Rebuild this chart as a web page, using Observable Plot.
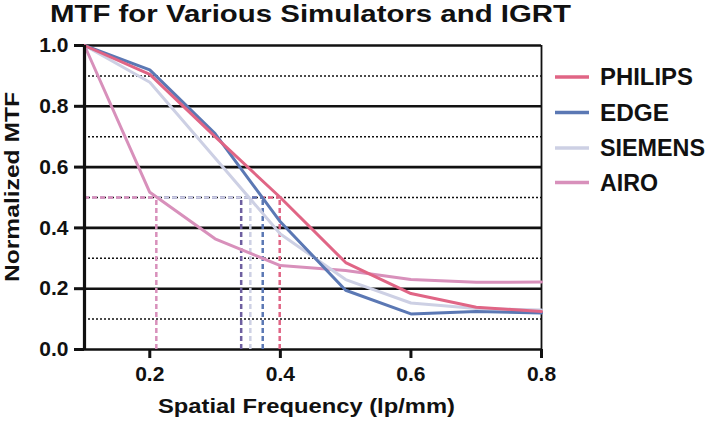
<!DOCTYPE html>
<html><head><meta charset="utf-8">
<script src="https://cdn.jsdelivr.net/npm/d3@7"></script>
<script src="https://cdn.jsdelivr.net/npm/@observablehq/plot@0.6"></script>
<style>
body{margin:0;background:#fff;}
#wrap{position:relative;width:709px;height:421px;overflow:hidden;}
</style></head>
<body><div id="wrap"></div>
<script>
const freq = [0.1, 0.2, 0.3, 0.4, 0.5, 0.6, 0.7, 0.8];
const philips = [1.0, 0.905, 0.70, 0.50, 0.286, 0.184, 0.139, 0.125];
const edge    = [1.0, 0.92, 0.71, 0.42, 0.195, 0.117, 0.125, 0.12];
const siemens = [1.0, 0.879, 0.63, 0.38, 0.23, 0.153, 0.135, 0.13];
const airo    = [1.0, 0.517, 0.364, 0.276, 0.26, 0.23, 0.221, 0.222];
const seriesNames = ["PHILIPS", "EDGE", "SIEMENS", "AIRO"];
const seriesColors = ["#e06585", "#5b78b4", "#cdd0e4", "#d890bb"];
const halfNames = ["PHILIPS", "EDGE", "OTHER", "SIEMENS", "AIRO"];
const halfFreq = [0.399, 0.373, 0.340, 0.354, 0.210];
const halfColors = ["#e06585", "#5b78b4", "#6e5fa0", "#cdd0e4", "#d890bb"];
const halfLevel = 0.5;
const yMajor = [0, 0.2, 0.4, 0.6, 0.8, 1.0];
const yMinor = [0.1, 0.3, 0.5, 0.7, 0.9];
const xTicks = [0.2, 0.4, 0.6, 0.8];
const titleText = "MTF for Various Simulators and IGRT";
const xLabel = "Spatial Frequency (lp/mm)";
const yLabel = "Normalized MTF";

const valuesBy = [philips, edge, siemens, airo];
const rows = [];
seriesNames.forEach((s, i) => freq.forEach((f, j) => rows.push({s, f, v: valuesBy[i][j], c: seriesColors[i]})));
const halfRows = halfNames.map((n, i) => ({n, f: halfFreq[i], c: halfColors[i]}));
const drawOrder = ["AIRO", "SIEMENS", "EDGE", "PHILIPS"];
const FONT = "'Liberation Sans', Arial, Helvetica, sans-serif";

const chart = Plot.plot({
  width: 709, height: 421,
  marginLeft: 84, marginRight: 168, marginTop: 45, marginBottom: 72,
  x: {domain: [0.1, 0.8]},
  y: {domain: [0, 1]},
  style: {fontFamily: FONT, fontWeight: "bold", fontSize: "21px", color: "#111", background: "#fff"},
  marks: [
    Plot.ruleY(yMinor, {stroke: "#111", strokeWidth: 1.5, strokeDasharray: "2,2"}),
    Plot.ruleY(yMajor, {stroke: "#111", strokeWidth: 2.6}),
    Plot.ruleX([0.8], {stroke: "#111", strokeWidth: 1.8}),
    Plot.ruleY(halfRows, {y: () => halfLevel, x1: () => 0.1, x2: "f", stroke: "c", strokeWidth: 2.5, strokeDasharray: "5,3"}),
    Plot.ruleX(halfRows, {x: "f", y1: 0, y2: () => halfLevel, stroke: "c", strokeWidth: 2.5, strokeDasharray: "5,3"}),
    ...drawOrder.map(n => Plot.line(rows.filter(r => r.s === n), {x: "f", y: "v", stroke: "c", strokeWidth: 3})),
    Plot.ruleX([0.1], {y1: 0, y2: 1, stroke: "#111", strokeWidth: 3.2}),
    Plot.axisY(yMajor, {tickSize: 10, tickPadding: 6, strokeWidth: 3, tickFormat: d => d.toFixed(1), label: null, fontSize: 21}),
    Plot.axisX(xTicks, {tickSize: 9, tickPadding: 8, strokeWidth: 3, tickFormat: d => d.toFixed(1), label: null, fontSize: 21})
  ]
});
document.getElementById("wrap").appendChild(chart);

const svg = d3.select(chart);
svg.selectAll('g[aria-label$="tick label"]').attr("font-size", 21).attr("font-weight", "bold");
svg.selectAll('g[aria-label$="tick label"] text').attr("font-size", 21);

const g = svg.append("g").attr("font-family", FONT).attr("font-weight", "bold").attr("fill", "#111")
  .attr("text-anchor", "start");
g.append("text").attr("x", 50).attr("y", 22).attr("font-size", 24).attr("text-anchor", "start")
  .attr("textLength", 521).attr("lengthAdjust", "spacingAndGlyphs").text(titleText);
g.append("text").attr("x", 158).attr("y", 413).attr("font-size", 21).attr("text-anchor", "start")
  .attr("textLength", 297).attr("lengthAdjust", "spacingAndGlyphs").text(xLabel);
g.append("text").attr("transform", "translate(19,187) rotate(-90)").attr("text-anchor", "middle").attr("font-size", 20)
  .attr("textLength", 190).attr("lengthAdjust", "spacingAndGlyphs").text(yLabel);

const legBase = [85, 120.5, 156, 190.5];
const legWidths = [93, 69, 105, 58];
seriesNames.forEach((n, i) => {
  g.append("line").attr("x1", 555).attr("x2", 589).attr("y1", legBase[i] - 8).attr("y2", legBase[i] - 8)
    .attr("stroke", seriesColors[i]).attr("stroke-width", 3.5);
  g.append("text").attr("x", 600).attr("y", legBase[i]).attr("font-size", 23).attr("text-anchor", "start")
    .attr("textLength", legWidths[i]).attr("lengthAdjust", "spacingAndGlyphs").text(n);
});
</script></body></html>
